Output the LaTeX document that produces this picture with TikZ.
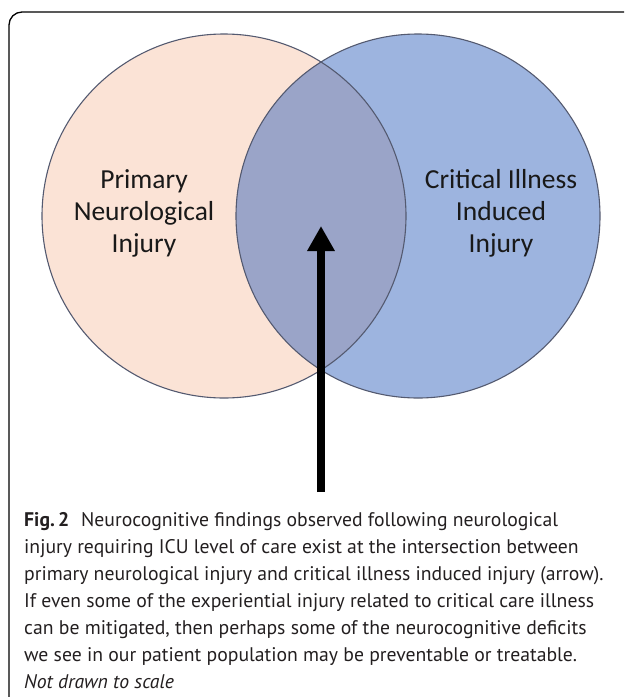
\documentclass[tikz,border=0pt]{standalone}
\usepackage{fontspec}
\setmainfont{PT Sans}
\newfontfamily\vennfont{Carlito}
\usepackage{tikz}
\usetikzlibrary{positioning, arrows.meta}

\definecolor{peach}{RGB}{251,227,214}
\definecolor{vennblue}{RGB}{157,180,223}
\definecolor{lensblue}{RGB}{154,164,200}
\definecolor{rimgray}{RGB}{84,90,112}
\definecolor{captext}{RGB}{35,31,32}

\tikzset{
  venn/.style={circle, minimum size=364pt, inner sep=0pt},
  vennlabel/.style={align=center, text=black!90, font=\vennfont\fontsize{27.5}{32}\selectfont},
}

\begin{document}
\begin{tikzpicture}[x=1pt, y=-1pt]
    \useasboundingbox (0,0) rectangle (627,697);
    % Frame of the figure box
    \draw [line width=1.3pt, rounded corners=13pt] (624,12) -- (9,12) -- (9,697);
    % The two sets
    \node (primary) [venn, fill=peach] at (224,216) {};
    \node (critical) [venn, fill=vennblue] at (418,216) {};
    \begin{scope}
        \clip (primary.center) circle (182pt);
        \fill [lensblue] (critical.center) circle (182pt);
    \end{scope}
    \draw [rimgray, line width=1.1pt] (primary.center) circle (182pt);
    \draw [rimgray, line width=1.1pt] (critical.center) circle (182pt);
    % Labels
    \node (primarytext) [vennlabel] at (144,213) {Primary\\Neurological\\Injury};
    \node (criticaltext) [vennlabel] at (501,213) {Critical Illness\\Induced\\Injury};
    % Arrow into the intersection
    \coordinate (tail) at (321,492);
    \coordinate (tip) at (321,226);
    \draw [line width=8pt, -{Triangle[length=25pt, width=26pt]}] (tail) -- (tip);
    % Caption
    \node (caption) [anchor=north west, align=left, inner sep=0pt, text=captext,
        font=\fontsize{19.7}{27}\selectfont] at (24,512)
        {\textbf{Fig.\,2}\hspace{0.6em}Neurocognitive findings observed following neurological\\
         injury requiring ICU level of care exist at the intersection between\\
         primary neurological injury and critical illness induced injury (arrow).\\
         If even some of the experiential injury related to critical care illness\\
         can be mitigated, then perhaps some of the neurocognitive deficits\\
         we see in our patient population may be preventable or treatable.\\
         \textit{Not drawn to scale}};
\end{tikzpicture}
\end{document}
